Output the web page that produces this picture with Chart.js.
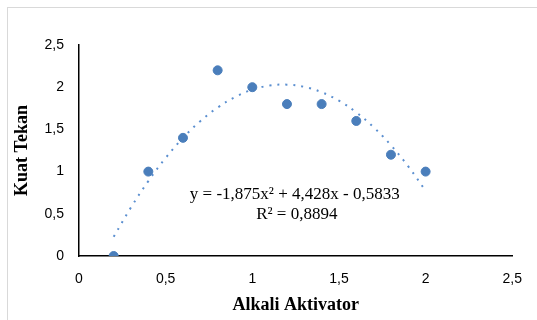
<!DOCTYPE html>
<html>
<head>
<meta charset="utf-8">
<script src="https://cdn.jsdelivr.net/npm/chart.js@4"></script>
<style>
  html, body { margin: 0; padding: 0; background: #fff; }
  #wrap { position: relative; width: 537px; height: 320px; overflow: hidden; }
  #frame { position: absolute; left: 7px; top: 7px; width: 560px; height: 340px; border: 1px solid #d9d9d9; }
  canvas { position: absolute; left: 0; top: 0; }
</style>
</head>
<body>
<div id="wrap">
  <div id="frame"></div>
  <canvas id="chart" width="537" height="320"></canvas>
</div>
<script>
// data titik pengamatan
const alkali = [0.2, 0.4, 0.6, 0.8, 1.0, 1.2, 1.4, 1.6, 1.8, 2.0];
const kuatTekan = [0, 1, 1.4, 2.2, 2.0, 1.8, 1.8, 1.6, 1.2, 1.0];

// garis trend (polinomial)
const trendX = [0.2, 0.3, 0.4, 0.5, 0.6, 0.7, 0.8, 0.9, 1.0, 1.1, 1.2, 1.3, 1.4, 1.5, 1.6, 1.7, 1.8, 1.9, 2.0];
const trendY = [0.227, 0.576, 0.888, 1.162, 1.399, 1.598, 1.759, 1.883, 1.970, 2.019, 2.030, 2.004, 1.941, 1.840, 1.702, 1.526, 1.312, 1.061, 0.773];

// label sumbu
const xTicks = [0, 0.5, 1, 1.5, 2, 2.5];
const yTicks = [0, 0.5, 1, 1.5, 2, 2.5];
const equationText = ['y = -1,875x\u00B2 + 4,428x - 0,5833', 'R\u00B2 = 0,8894'];

const blue = '#4a7ebb';
const fmt = v => String(v).replace('.', ',');

// teks persamaan di atas grafik
const equationPlugin = {
  id: 'equation',
  afterDatasetsDraw(chart) {
    const { ctx, scales } = chart;
    const cx = scales.x.getPixelForValue(1.245);
    const cy = scales.y.getPixelForValue(0.725);
    ctx.save();
    ctx.font = '17px "Liberation Serif"';
    ctx.fillStyle = '#000';
    ctx.textAlign = 'center';
    ctx.textBaseline = 'middle';
    ctx.fillText(equationText[0], cx, cy);
    ctx.fillText(equationText[1], cx + 2, cy + 20);
    ctx.restore();
  }
};

new Chart(document.getElementById('chart'), {
  type: 'scatter',
  data: {
    datasets: [
      {
        data: alkali.map((x, i) => ({ x, y: kuatTekan[i] })),
        backgroundColor: blue,
        borderColor: blue,
        pointRadius: 4.5,
        pointHoverRadius: 4.5,
        order: 1
      },
      {
        type: 'line',
        data: trendX.map((x, i) => ({ x, y: trendY[i] })),
        borderColor: '#5b8fd0',
        borderWidth: 2,
        borderDash: [2, 6],
        pointRadius: 0,
        tension: 0.4,
        fill: false,
        order: 2
      }
    ]
  },
  options: {
    responsive: false,
    animation: false,
    events: [],
    layout: { padding: { top: 45, right: 20, left: 0, bottom: 0 } },
    plugins: {
      legend: { display: false },
      tooltip: { enabled: false }
    },
    scales: {
      x: {
        type: 'linear',
        min: 0,
        max: 2.5,
        afterBuildTicks: s => { s.ticks = xTicks.map(v => ({ value: v })); },
        afterFit: s => { s.height = 64; },
        grid: { display: false, drawTicks: false },
        border: { display: true, color: '#000', width: 1.5 },
        ticks: {
          padding: 15,
          color: '#000',
          font: { family: 'Liberation Sans', size: 14 },
          maxRotation: 0,
          callback: v => fmt(v)
        },
        title: {
          display: true,
          text: 'Alkali Aktivator',
          color: '#000',
          font: { family: 'Liberation Serif', size: 18, weight: 'bold' },
          padding: { top: 4, bottom: 4 }
        }
      },
      y: {
        type: 'linear',
        min: 0,
        max: 2.5,
        afterBuildTicks: s => { s.ticks = yTicks.map(v => ({ value: v })); },
        afterFit: s => { s.width = 79; },
        grid: { display: false, drawTicks: false },
        border: { display: true, color: '#000', width: 1.5 },
        ticks: {
          padding: 15,
          color: '#000',
          font: { family: 'Liberation Sans', size: 14 },
          callback: v => fmt(v)
        },
        title: {
          display: true,
          text: 'Kuat Tekan',
          color: '#000',
          font: { family: 'Liberation Serif', size: 18, weight: 'bold' },
          padding: { top: 12, bottom: 12 }
        }
      }
    }
  },
  plugins: [equationPlugin]
});
</script>
</body>
</html>
